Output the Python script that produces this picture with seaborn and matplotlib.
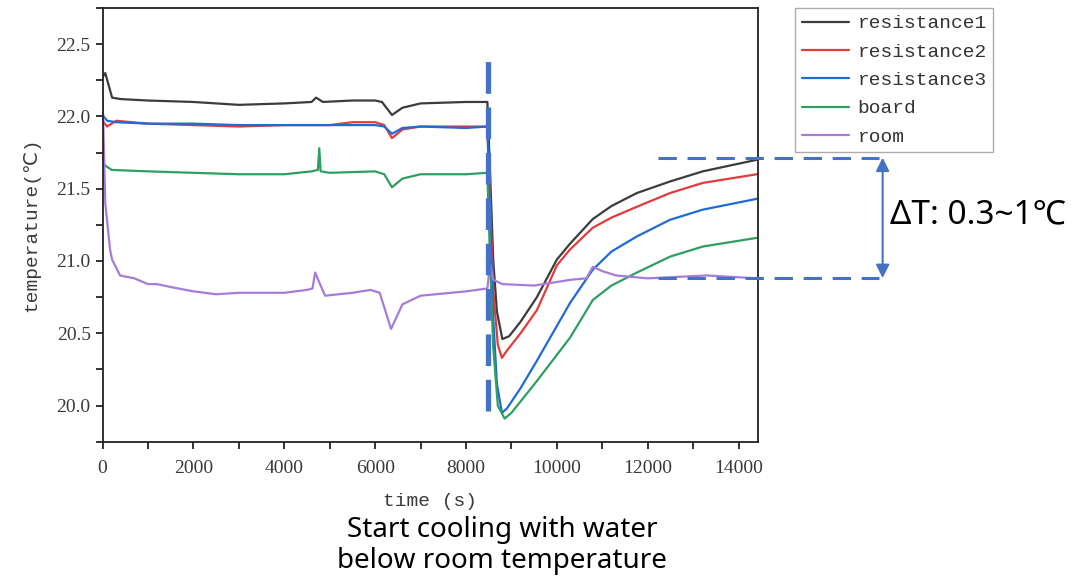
import matplotlib
matplotlib.use("Agg")
import matplotlib.pyplot as plt
from matplotlib.ticker import MultipleLocator, FuncFormatter
import pandas as pd
import seaborn as sns

# ── Data ──────────────────────────────────────────────────────────────────
t_r1 = [0, 60, 210, 400, 1000, 2000, 3000, 4000, 4600, 4700, 4850, 5500, 6000,
        6150, 6370, 6600, 7000, 8000, 8470, 8530, 8600, 8680, 8800, 8950, 9200,
        9560, 10000, 10290, 10790, 11200, 11760, 12490, 13210, 14400]
v_r1 = [22.27, 22.30, 22.13, 22.12, 22.11, 22.10, 22.08, 22.09, 22.10, 22.13,
        22.10, 22.11, 22.11, 22.10, 22.01, 22.06, 22.09, 22.10, 22.10, 21.6,
        21.0, 20.65, 20.46, 20.48, 20.58, 20.75, 21.01, 21.12, 21.29, 21.38,
        21.47, 21.55, 21.62, 21.70]

t_r2 = [0, 100, 300, 1000, 2000, 3000, 4000, 5000, 5500, 6000, 6200, 6370,
        6600, 7000, 8000, 8470, 8530, 8600, 8700, 8790, 8900, 9200, 9560, 10000,
        10290, 10790, 11200, 11760, 12490, 13210, 14400]
v_r2 = [21.97, 21.93, 21.97, 21.95, 21.94, 21.93, 21.94, 21.94, 21.96, 21.96,
        21.94, 21.85, 21.91, 21.93, 21.93, 21.93, 21.4, 20.8, 20.42, 20.33,
        20.38, 20.50, 20.66, 20.97, 21.08, 21.23, 21.30, 21.375, 21.47, 21.54,
        21.60]

t_r3 = [0, 100, 300, 1000, 2000, 3000, 4000, 5000, 6000, 6200, 6370, 6600,
        7000, 8000, 8470, 8530, 8600, 8680, 8790, 8900, 9200, 9560, 10290,
        10790, 11200, 11760, 12490, 13210, 14400]
v_r3 = [22.01, 21.97, 21.96, 21.95, 21.95, 21.94, 21.94, 21.94, 21.94, 21.93,
        21.88, 21.92, 21.93, 21.92, 21.93, 21.3, 20.6, 20.15, 19.95, 19.98,
        20.12, 20.31, 20.71, 20.94, 21.065, 21.17, 21.285, 21.355, 21.43]

t_bd = [0, 60, 200, 1000, 2000, 3000, 4000, 4600, 4740, 4770, 4800, 5000, 6000,
        6200, 6370, 6600, 7000, 8000, 8470, 8530, 8600, 8700, 8850, 9000, 9560,
        10290, 10790, 11200, 11760, 12490, 13210, 14400]
v_bd = [21.68, 21.66, 21.63, 21.62, 21.61, 21.60, 21.60, 21.62, 21.63, 21.78,
        21.62, 21.61, 21.62, 21.60, 21.51, 21.57, 21.60, 21.60, 21.61, 21.0,
        20.4, 20.0, 19.91, 19.95, 20.17, 20.47, 20.73, 20.83, 20.92, 21.03,
        21.10, 21.16]

t_rm = [0, 60, 165, 210, 385, 700, 1000, 1200, 1500, 2000, 2500, 3000, 4000,
        4500, 4620, 4680, 4800, 4900, 5500, 5900, 6100, 6350, 6600, 7000, 8000,
        8470, 8530, 8600, 8800, 9500, 10300, 10650, 10790, 11000, 11300, 12000,
        13300, 14400]
v_rm = [22.15, 21.40, 21.08, 21.01, 20.90, 20.88, 20.84, 20.84, 20.82, 20.79,
        20.77, 20.78, 20.78, 20.80, 20.81, 20.92, 20.83, 20.76, 20.78, 20.80,
        20.78, 20.53, 20.70, 20.76, 20.79, 20.81, 20.98, 20.87, 20.84, 20.83,
        20.87, 20.88, 20.96, 20.93, 20.90, 20.88, 20.90, 20.88]

series = ["resistance1", "resistance2", "resistance3", "board", "room"]
colors = ["#3c3c3c", "#e23b3b", "#1f6bd6", "#2f9e62", "#a77bd9"]

frames = []
for name, t, v in zip(series, [t_r1, t_r2, t_r3, t_bd, t_rm],
                      [v_r1, v_r2, v_r3, v_bd, v_rm]):
    frames.append(pd.DataFrame({"time": t, "temp": v, "series": name}))
df = pd.concat(frames, ignore_index=True)

# annotation positions (data units)
cool_start = 8480
dT_top, dT_bot = 21.715, 20.882

# ── Plot ──────────────────────────────────────────────────────────────────
sns.set_theme(style="white")
plt.rcParams["font.family"] = ["Liberation Mono", "DejaVu Sans"]
ANNOT = "#4472c4"
TXT = "#3a3a3a"

fig = plt.figure(figsize=(10.91, 5.79), dpi=100)
ax = fig.add_axes([0.094, 0.2371, 0.6005, 0.7491])

sns.lineplot(data=df, x="time", y="temp", hue="series", hue_order=series,
             palette=colors, estimator=None, linewidth=1.6, ax=ax)

ax.set_xlim(0, 14420)
ax.set_ylim(19.75, 22.75)
ax.xaxis.set_major_locator(MultipleLocator(2000))
ax.xaxis.set_minor_locator(MultipleLocator(1000))
ax.yaxis.set_major_locator(MultipleLocator(0.5))
ax.yaxis.set_minor_locator(MultipleLocator(0.25))
ax.yaxis.set_major_formatter(FuncFormatter(lambda v, p: f"{v:.1f}"))
ax.tick_params(which="both", direction="out", length=5, width=1.3,
               color="#222222", bottom=True, left=True)
ax.tick_params(axis="x", pad=8)
ax.tick_params(axis="y", pad=3.5)
for lab in ax.get_xticklabels() + ax.get_yticklabels():
    lab.set_family(["Liberation Serif", "DejaVu Serif"])
    lab.set_fontsize(14)
    lab.set_color(TXT)
for s in ax.spines.values():
    s.set_color("#222222")
    s.set_linewidth(1.3)

ax.set_xlabel("time (s)", fontsize=14, color=TXT, labelpad=12)
ax.set_ylabel("temperature(℃)", fontsize=14, color=TXT, labelpad=12)

leg = ax.legend(loc="upper left", bbox_to_anchor=(1.057, 1.0), borderaxespad=0,
                fontsize=14, handlelength=2.4, frameon=True, fancybox=False,
                edgecolor="#999999", labelspacing=0.55, borderpad=0.35,
                handletextpad=0.45)
leg.get_frame().set_linewidth(1.0)
for txt in leg.get_texts():
    txt.set_color("#333333")

# vertical dashed line: start of cooling
ax.plot([cool_start, cool_start], [19.965, 22.43], color=ANNOT, lw=3.8,
        dashes=(6, 2.6), clip_on=False, zorder=5)

# horizontal dashed lines for ΔT
for yv in (dT_top, dT_bot):
    ax.plot([12220, 17100], [yv, yv], color=ANNOT, lw=2.2, dashes=(6, 3.5),
            clip_on=False, zorder=5)
ax.annotate("", xy=(17170, dT_top), xytext=(17170, dT_bot),
            arrowprops=dict(arrowstyle="<|-|>", color=ANNOT, lw=1.5,
                            mutation_scale=20, shrinkA=0, shrinkB=0),
            annotation_clip=False)

sans = ["Noto Sans", "Noto Sans CJK SC", "DejaVu Sans"]
fig.text(890 / 1091, 1 - 215 / 579, "ΔT: 0.3~1℃", fontsize=24, family=sans,
         ha="left", va="center", color="black")
fig.text(502 / 1091, 1 - 530 / 579, "Start cooling with water",
         fontsize=20, family=sans, ha="center", va="center", color="black")
fig.text(502 / 1091, 1 - 561 / 579, "below room temperature",
         fontsize=20, family=sans, ha="center", va="center", color="black")

fig.savefig("out.png", dpi=100)
